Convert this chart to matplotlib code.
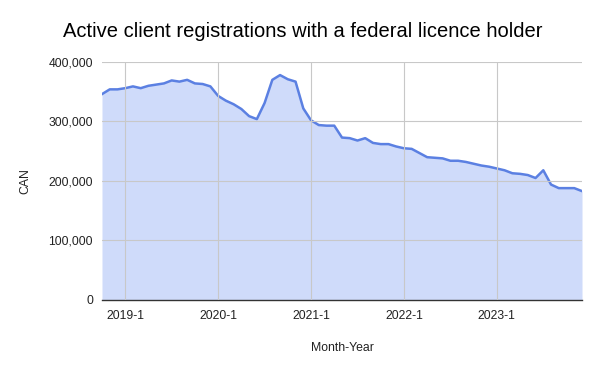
#!/usr/bin/env python3

import numpy as np
from matplotlib import pyplot as plt
from matplotlib.ticker import FuncFormatter

plt.rcParams['font.family'] = ['Liberation Sans', 'DejaVu Sans']

# month labels, 2018-10 .. 2023-12
months = ['2018-10', '2018-11', '2018-12'] + \
    ['%d-%d' % (y, m) for y in range(2019, 2024) for m in range(1, 13)]

# active registrations
clients = [
    346000, 354000, 354000,
    356000, 359000, 356000, 360000, 362000, 364000, 369000, 367000, 370000, 364000, 363000, 359000,
    343000, 335000, 329000, 321000, 309000, 304000, 331000, 370000, 378000, 371000, 367000, 322000,
    302000, 294000, 293000, 293000, 273000, 272000, 268000, 272000, 264000, 262000, 262000, 258000,
    255000, 254000, 247000, 240000, 239000, 238000, 234000, 234000, 232000, 229000, 226000, 224000,
    221000, 218000, 213000, 212000, 210000, 205000, 218000, 194000, 188000, 188000, 188000, 183000,
]

tick_labels = ['2019-1', '2020-1', '2021-1', '2022-1', '2023-1']
y_ticks = [0, 100000, 200000, 300000, 400000]

LINE = '#5b80e2'
FILL = '#cfdbfa'
GRID = '#c8c8c8'

x = np.arange(len(months))
ticks = [months.index(t) for t in tick_labels]

fig = plt.figure(figsize=(6, 3.71), dpi=100)
ax = fig.add_axes([0.17, 0.1914, 0.80, 0.6415])

ax.fill_between(x, clients, 0, color=FILL, linewidth=0)
ax.plot(x, clients, color=LINE, linewidth=1.8, solid_joinstyle='round')

ax.set_xlim(0, len(months) - 1)
ax.set_ylim(0, 400000)
ax.set_xticks(ticks)
ax.set_xticklabels(tick_labels)
ax.set_yticks(y_ticks)
ax.yaxis.set_major_formatter(FuncFormatter(lambda v, p: '{:,.0f}'.format(v)))

ax.grid(True, color=GRID, linewidth=0.8)
ax.set_axisbelow(False)
for s in ['top', 'right', 'left']:
    ax.spines[s].set_visible(False)
ax.spines['bottom'].set_color('#333333')
ax.spines['bottom'].set_linewidth(1.0)
ax.tick_params(axis='both', length=0, labelsize=8.7, colors='#222222')
ax.tick_params(axis='x', pad=7.5)
ax.tick_params(axis='y', pad=6.5)

ax.set_xlabel('Month-Year', fontsize=8.8, color='#222222', labelpad=14)
ax.set_ylabel('CAN', fontsize=8.8, color='#222222', labelpad=12)

fig.text(0.504, 0.914, 'Active client registrations with a federal licence holder',
         ha='center', va='center', fontsize=14.5, color='#000000')

fig.savefig('out.png', dpi=100)
